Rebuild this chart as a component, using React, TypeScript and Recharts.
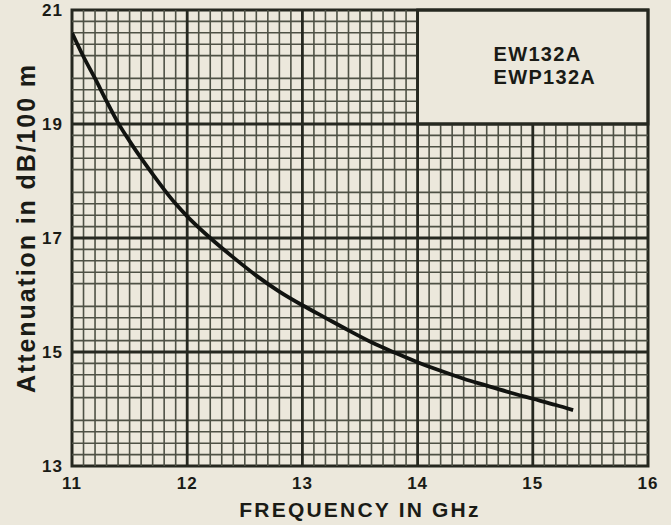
import React from 'react';
import {
  ComposedChart,
  Line,
  XAxis,
  YAxis,
  ReferenceLine,
  ReferenceArea,
} from 'recharts';

// Attenuation curve of EW132A / EWP132A elliptical waveguide
const frequencyGHz = [
  11.0, 11.1, 11.2, 11.3, 11.4, 11.5, 11.6, 11.7, 11.8, 11.9, 12.0, 12.2, 12.4,
  12.6, 12.8, 13.0, 13.2, 13.4, 13.6, 13.8, 14.0, 14.2, 14.4, 14.6, 14.8, 15.0,
  15.2, 15.35,
];
const attenuationDb = [
  20.6, 20.18, 19.8, 19.4, 19.02, 18.7, 18.4, 18.12, 17.85, 17.6, 17.38, 17.0,
  16.66, 16.34, 16.06, 15.82, 15.6, 15.38, 15.17, 14.99, 14.82, 14.67, 14.53,
  14.41, 14.29, 14.18, 14.07, 13.98,
];

const xTicks = [11, 12, 13, 14, 15, 16];
const yTicks = [13, 15, 17, 19, 21];
const modelNames = ['EW132A', 'EWP132A'];

const data = frequencyGHz.map((f, i) => ({ f, a: attenuationDb[i] }));

const PAPER = '#ece8dc';
const INK = '#1a1b16';
const MINOR = '#4e5145';
const MAJOR = '#262820';
const FONT = '"Liberation Sans", Arial, Helvetica, sans-serif';

// grid: 0.1 GHz by 0.2 dB, heavier every 1 GHz and every 2 dB
const minorX: number[] = [];
for (let i = 111; i < 160; i++) if (i % 10 !== 0) minorX.push(i / 10);
const minorY: number[] = [];
for (let i = 66; i < 105; i++) if (i % 5 !== 0) minorY.push(i / 5);
const majorX = [12, 13, 14, 15];
const majorY = [15, 17, 19];

// the model box covers 14–16 GHz, 19–21 dB
const BOX = { x1: 14, x2: 16, y1: 19, y2: 21 };

function vSegment(x: number) {
  const top = x > BOX.x1 ? BOX.y1 : 21;
  return [
    { x, y: 13 },
    { x, y: top },
  ];
}
function hSegment(y: number) {
  const right = y > BOX.y1 ? BOX.x1 : 16;
  return [
    { x: 11, y },
    { x: right, y },
  ];
}

const ModelLabel = (props: any) => {
  const vb = props.viewBox || {};
  const x = vb.x + 76;
  const y = vb.y + 51;
  return (
    <text
      x={x}
      y={y}
      fill={INK}
      fontFamily={FONT}
      fontWeight="bold"
      fontSize={20}
      letterSpacing={1.3}
    >
      {modelNames.map((n, i) => (
        <tspan key={n} x={x} y={y + i * 23}>
          {n}
        </tspan>
      ))}
    </text>
  );
};

const XTitle = (props: any) => {
  const vb = props.viewBox || {};
  return (
    <text
      x={vb.x + vb.width / 2}
      y={517}
      textAnchor="middle"
      fill={INK}
      fontFamily={FONT}
      fontWeight="bold"
      fontSize={21}
      letterSpacing={2.2}
    >
      FREQUENCY IN GHz
    </text>
  );
};

const YTitle = () => (
  <text
    x={35}
    y={228}
    transform="rotate(-90 35 228)"
    textAnchor="middle"
    fill={INK}
    fontFamily={FONT}
    fontWeight="bold"
    fontSize={25}
    letterSpacing={1.9}
  >
    Attenuation in dB/100 m
  </text>
);

const tickStyle = {
  fill: INK,
  fontSize: 17,
  fontWeight: 'bold',
  fontFamily: FONT,
  letterSpacing: 1,
};

export default function App() {
  return (
    <div
      style={{
        position: 'absolute',
        left: 0,
        top: 0,
        width: 671,
        height: 525,
        background: PAPER,
      }}
    >
      <ComposedChart
        width={671}
        height={525}
        data={data}
        margin={{ top: 10, right: 23, bottom: 14, left: 12 }}
      >
        <XAxis
          dataKey="f"
          type="number"
          domain={[11, 16]}
          ticks={xTicks}
          allowDataOverflow
          axisLine={false}
          tickLine={false}
          tickSize={0}
          tickMargin={11}
          height={45}
          interval={0}
          tick={tickStyle}
          label={<XTitle />}
        />
        <YAxis
          type="number"
          domain={[13, 21]}
          ticks={yTicks}
          allowDataOverflow
          axisLine={false}
          tickLine={false}
          tickSize={0}
          tickMargin={9}
          width={60}
          interval={0}
          tick={tickStyle}
          label={<YTitle />}
        />
        {minorX.map((x) => (
          <ReferenceLine
            key={'mx' + x}
            segment={vSegment(x)}
            stroke={MINOR}
            strokeWidth={1.6}
            ifOverflow="visible"
          />
        ))}
        {minorY.map((y) => (
          <ReferenceLine
            key={'my' + y}
            segment={hSegment(y)}
            stroke={MINOR}
            strokeWidth={1.6}
            ifOverflow="visible"
          />
        ))}
        {majorX.map((x) => (
          <ReferenceLine
            key={'Mx' + x}
            segment={vSegment(x)}
            stroke={MAJOR}
            strokeWidth={2.8}
            ifOverflow="visible"
          />
        ))}
        {majorY.map((y) => (
          <ReferenceLine
            key={'My' + y}
            segment={hSegment(y)}
            stroke={MAJOR}
            strokeWidth={2.8}
            ifOverflow="visible"
          />
        ))}
        <ReferenceArea
          x1={BOX.x1}
          x2={BOX.x2}
          y1={BOX.y1}
          y2={BOX.y2}
          fill="none"
          stroke={MAJOR}
          strokeWidth={2.8}
          ifOverflow="visible"
          label={<ModelLabel />}
        />
        <ReferenceArea
          x1={11}
          x2={16}
          y1={13}
          y2={21}
          fill="none"
          stroke={MAJOR}
          strokeWidth={3}
          ifOverflow="visible"
        />
        <Line
          type="monotone"
          dataKey="a"
          stroke="#111310"
          strokeWidth={3.8}
          dot={false}
          activeDot={false}
          isAnimationActive={false}
        />
      </ComposedChart>
    </div>
  );
}
